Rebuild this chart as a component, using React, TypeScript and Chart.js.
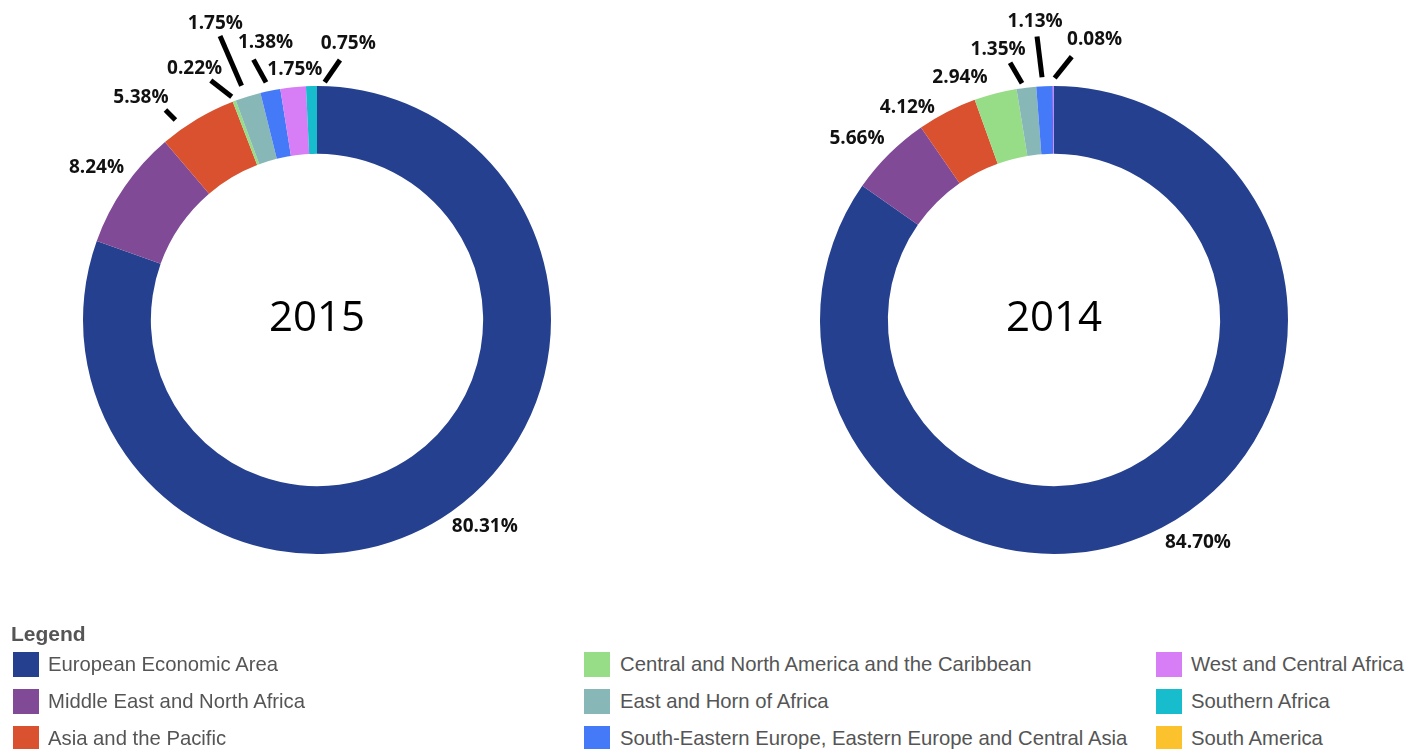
import React, { useEffect, useRef } from 'react';
import { Chart, registerables } from 'chart.js';

Chart.register(...registerables);

// ---- Data ----
const categories = [
  'European Economic Area',
  'Middle East and North Africa',
  'Asia and the Pacific',
  'Central and North America and the Caribbean',
  'East and Horn of Africa',
  'South-Eastern Europe, Eastern Europe and Central Asia',
  'West and Central Africa',
  'Southern Africa',
  'South America',
];
const values2015 = [80.31, 8.24, 5.38, 0.22, 1.75, 1.38, 1.75, 0.75, 0];
const values2014 = [84.7, 5.66, 4.12, 2.94, 1.35, 1.13, 0.08, 0, 0];
const years = ['2015', '2014'];

// ---- Styles ----
const colors = ['#25408f', '#804a97', '#d9512f', '#97dd88', '#88b7b8', '#4479f8', '#d77ef6', '#17bccd', '#fbc22d'];

// label layout: [radial offset beyond outer radius, angular shift in degrees from slice middle]
// line: [offset1, shift1, offset2, shift2]
type LabelCfg = { label: [number, number]; line?: [number, number, number, number] } | null;
const layout2015: LabelCfg[] = [
  { label: [32, -4] },
  { label: [34, 0] },
  { label: [50, -7.5], line: [11, -4.5, 25, -5] },
  { label: [46, -5.2], line: [5, -0.2, 28, -3.2] },
  { label: [79, -1.8], line: [12, -0.7, 66, -1.7] },
  { label: [48, 1.0], line: [9, -0.6, 34, -2.2] },
  { label: [17, 0.8] },
  { label: [44, 7.8], line: [4, 3.2, 27, 6.4] },
  null,
];
const layout2014: LabelCfg[] = [
  { label: [31, -5.4] },
  { label: [34, -2.5] },
  { label: [24, -7.4] },
  { label: [26, -6.7] },
  { label: [42, -4.9], line: [5, -0.9, 27, -2.9] },
  { label: [65, -1.3], line: [9, -0.5, 50, -1.1] },
  { label: [49, 8.4], line: [8, 0.3, 30, 4] },
  null,
  null,
];

const labelPlugin = {
  id: 'pctLabels',
  afterDraw(chart: any, _args: any, opts: any) {
    const ctx = chart.ctx;
    const meta = chart.getDatasetMeta(0);
    const data = chart.data.datasets[0].data as number[];
    const layout: LabelCfg[] = opts.layout || [];
    ctx.save();
    meta.data.forEach((arc: any, i: number) => {
      const cfg = layout[i];
      if (!cfg || !data[i]) return;
      const p = arc.getProps(['x', 'y', 'startAngle', 'endAngle', 'outerRadius'], true);
      const mid = (p.startAngle + p.endAngle) / 2;
      const pt = (off: number, shiftDeg: number) => {
        const a = mid + (shiftDeg * Math.PI) / 180;
        const r = p.outerRadius + off;
        return [p.x + r * Math.cos(a), p.y + r * Math.sin(a)];
      };
      if (cfg.line) {
        const [a1, s1, a2, s2] = cfg.line;
        const q1 = pt(a1, s1);
        const q2 = pt(a2, s2);
        ctx.beginPath();
        ctx.moveTo(q1[0], q1[1]);
        ctx.lineTo(q2[0], q2[1]);
        ctx.lineWidth = 5;
        ctx.strokeStyle = '#000';
        ctx.lineCap = 'butt';
        ctx.stroke();
      }
      const lp = pt(cfg.label[0], cfg.label[1]);
      ctx.font = 'bold 19px "Open Sans"';
      ctx.fillStyle = '#111';
      ctx.textAlign = 'center';
      ctx.textBaseline = 'middle';
      ctx.fillText(data[i].toFixed(2) + '%', lp[0], lp[1]);
    });
    // center title
    const a0 = meta.data[0];
    if (a0) {
      ctx.font = '42px "Open Sans"';
      ctx.fillStyle = '#000';
      ctx.textAlign = 'center';
      ctx.textBaseline = 'middle';
      ctx.fillText(opts.title, a0.x, a0.y - 1);
    }
    ctx.restore();
  },
};

function Donut({ values, layout, title, left }: { values: number[]; layout: LabelCfg[]; title: string; left: number }) {
  const ref = useRef<HTMLCanvasElement>(null);
  useEffect(() => {
    if (!ref.current) return;
    const chart = new Chart(ref.current, {
      type: 'doughnut',
      data: {
        labels: categories,
        datasets: [
          {
            data: values,
            backgroundColor: colors,
            borderWidth: 0,
          },
        ],
      },
      options: {
        responsive: false,
        animation: false,
        cutout: '71%',
        layout: { padding: 86 },
        plugins: {
          legend: { display: false },
          tooltip: { enabled: false },
          pctLabels: { layout, title },
        } as any,
      },
      plugins: [labelPlugin as any],
    });
    return () => chart.destroy();
  }, []);
  return (
    <canvas
      ref={ref}
      width={640}
      height={640}
      style={{ position: 'absolute', left, top: 0, width: 640, height: 640 }}
    />
  );
}

const legendCols = [
  { swatchX: 13, textX: 48 },
  { swatchX: 584, textX: 620 },
  { swatchX: 1156, textX: 1191 },
];
const rowY = [652, 689, 726];

export default function App() {
  return (
    <div
      style={{
        position: 'absolute',
        left: 0,
        top: 0,
        width: 1422,
        height: 749,
        overflow: 'hidden',
        background: '#fff',
        fontFamily: '"Liberation Sans", Arial, sans-serif',
      }}
    >
      <Donut values={values2015} layout={layout2015} title={years[0]} left={317 - 320} />
      <Donut values={values2014} layout={layout2014} title={years[1]} left={1054 - 320} />
      <div
        style={{
          position: 'absolute',
          left: 11,
          top: 621,
          fontWeight: 'bold',
          fontSize: 21,
          color: '#555',
          lineHeight: '25px',
        }}
      >
        Legend
      </div>
      {categories.map((c, i) => {
        const col = legendCols[Math.floor(i / 3)];
        const y = rowY[i % 3];
        return (
          <React.Fragment key={c}>
            <div
              style={{
                position: 'absolute',
                left: col.swatchX,
                top: y,
                width: 26,
                height: 25,
                background: colors[i],
              }}
            />
            <div
              style={{
                position: 'absolute',
                left: col.textX,
                top: y,
                height: 25,
                lineHeight: '25px',
                fontSize: 20.3,
                color: '#555',
                whiteSpace: 'nowrap',
              }}
            >
              {c}
            </div>
          </React.Fragment>
        );
      })}
    </div>
  );
}
